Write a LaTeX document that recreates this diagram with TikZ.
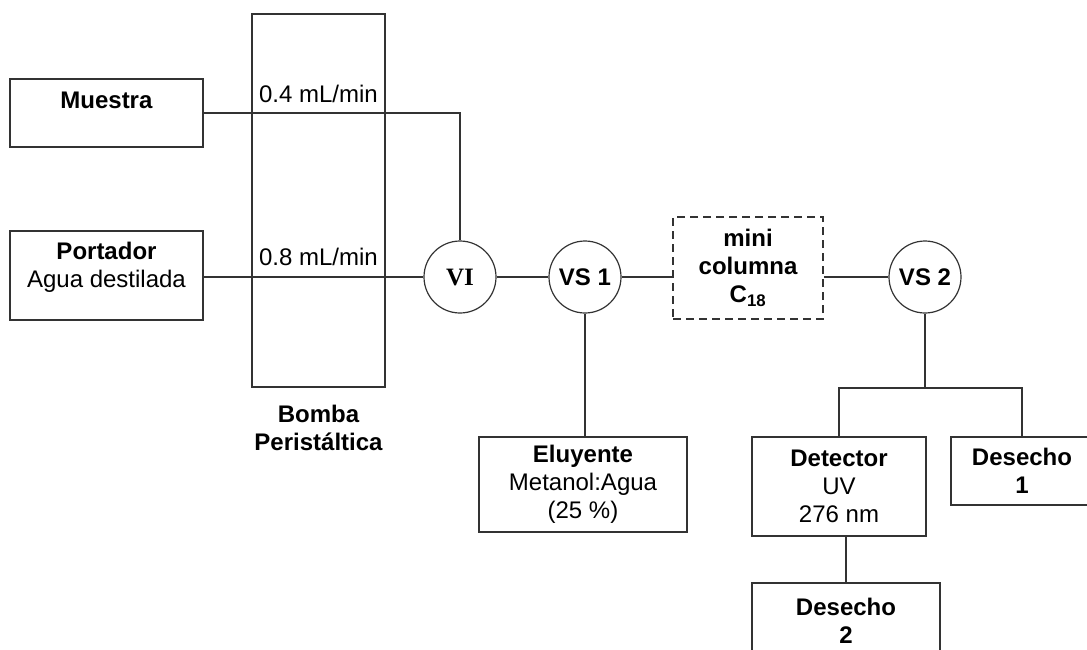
\documentclass[tikz,border=0pt]{standalone}
\usepackage{fontspec}
\setmainfont{Liberation Sans}
\newfontfamily\serifbold{Liberation Serif}
\definecolor{linegray}{HTML}{333333}
\begin{document}
\begin{tikzpicture}[x=1pt,y=-1pt,
  every node/.style={font=\fontsize{24}{28}\selectfont, text=black},
  line/.style={draw=linegray, line width=1.2pt},
  box/.style={draw=linegray, line width=1.2pt, rectangle, inner sep=0pt, align=center},
  boldbox/.style={box, font=\fontsize{24}{28}\selectfont\bfseries},
  valve/.style={draw=linegray, line width=1.2pt, circle, minimum size=72pt, inner sep=0pt, font=\fontsize{24}{28}\selectfont\bfseries},
  toplbl/.style={anchor=north, inner sep=0pt, align=center, yshift=-12pt},
  flowlbl/.style={anchor=base, inner sep=0pt}
]
\useasboundingbox (0,0) rectangle (1087,649);
\clip (0,0) rectangle (1087,649);

% sources
\node[box, minimum width=193pt, minimum height=68pt,
      label={[toplbl,yshift=-1pt]north:\textbf{Muestra}}] (mue) at (106.5,113) {};
\node[box, minimum width=193pt, minimum height=89pt,
      label={[toplbl]north:\textbf{Portador}\\Agua destilada}] (por) at (106.5,275.5) {};

% pump
\node[box, minimum width=133pt, minimum height=373pt] (pump) at (318.5,200.5) {};
\node[anchor=north, inner sep=0pt, align=center, font=\fontsize{24}{28}\selectfont\bfseries] (pumplbl) at (318.5,405) {Bomba\\Peristáltica};
\node[flowlbl] (f1) at (318.5,102) {0.4 mL/min};
\node[flowlbl] (f2) at (318.5,265) {0.8 mL/min};

% valves
\node[valve, font=\fontsize{25}{28}\serifbold\bfseries] (vi) at (460,277) {VI};
\node[valve] (vs1) at (585,277) {VS 1};
\node[valve] (vs2) at (925,277) {VS 2};

% column
\node[draw=linegray, line width=2pt, dash pattern=on 8pt off 5pt, minimum width=150pt, minimum height=102pt,
      inner sep=0pt, align=center, font=\fontsize{24}{28}\selectfont\bfseries] (col) at (748,268) {mini\\columna\\C\textsubscript{18}};

% lower boxes
\node[box, minimum width=208pt, minimum height=95pt] (elu) at (583,484.5) {\textbf{Eluyente}\\Metanol:Agua\\(25 \%)};
\node[box, minimum width=174pt, minimum height=99pt] (det) at (839,486.5) {\textbf{Detector}\\UV\\276 nm};
\node[boldbox, minimum width=142pt, minimum height=68pt] (d1) at (1022,471) {Desecho\\1};
\node[boldbox, minimum width=188pt, minimum height=75pt] (d2) at (846,620.5) {Desecho\\2};

% connectors
\draw[line] (mue.east) -| (vi.north);
\draw[line] (vi.west -| por.east) -- (vi.west);
\draw[line] (vi) -- (vs1);
\draw[line] (vs1.east) -- (vs1.east -| col.west);
\draw[line] (vs2.west -| col.east) -- (vs2.west);
\draw[line] (vs1.south) -- (vs1.south |- elu.north);
\coordinate (split) at (925,388);
\draw[line] (vs2.south) -- (split);
\draw[line] (det.north) |- (split) -| (d1.north);
\draw[line] (d2.north |- det.south) -- (d2.north);
\end{tikzpicture}
\end{document}
